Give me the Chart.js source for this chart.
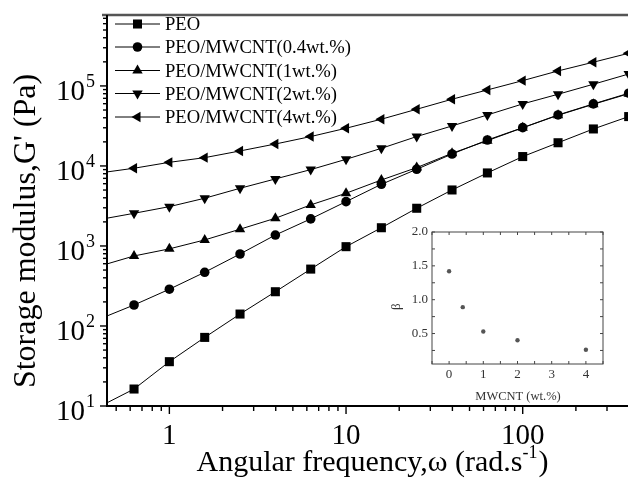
<!DOCTYPE html>
<html>
<head>
<meta charset="utf-8">
<script src="https://cdn.jsdelivr.net/npm/chart.js@4.4.0/dist/chart.umd.min.js"></script>
<style>
  body { margin: 0; background: #fff; overflow: hidden; }
  #wrap { position: relative; width: 628px; height: 494px; overflow: hidden; }
  #main { position: absolute; left: 0; top: 0; }
  #inset { position: absolute; left: 380px; top: 220px; }
</style>
</head>
<body>
<div id="wrap">
  <canvas id="main" width="640" height="494"></canvas>
  <canvas id="inset" width="240" height="190"></canvas>
</div>
<script>
// angular frequency (rad/s), five points per decade
const freq = [0.398, 0.631, 1, 1.585, 2.512, 3.981, 6.31, 10, 15.85, 25.12, 39.81, 63.1, 100, 158.5, 251.2, 398.1];

// storage modulus G' (Pa)
const peo   = [9.7, 16.3, 35.8, 72, 141, 268, 514, 980, 1690, 2960, 5010, 8180, 13100, 19500, 29000, 41400];
const peo04 = [121, 183, 288, 469, 794, 1370, 2180, 3580, 5900, 9090, 14100, 21100, 30100, 43400, 59600, 81100];
const peo1  = [556, 750, 920, 1190, 1620, 2220, 3260, 4560, 6680, 9530, 14400, 20700, 30000, 43000, 59000, 80000];
const peo2  = [2130, 2560, 3100, 3950, 5260, 6880, 9000, 12100, 16600, 23300, 31600, 43400, 59600, 78700, 105000, 141000];
const peo4  = [8150, 9360, 11100, 12700, 15400, 18800, 23300, 29600, 38400, 51100, 68200, 89100, 116500, 154000, 198000, 256000];

const seriesNames = ['PEO', 'PEO/MWCNT(0.4wt.%)', 'PEO/MWCNT(1wt.%)', 'PEO/MWCNT(2wt.%)', 'PEO/MWCNT(4wt.%)'];

const xMajor = [1, 10, 100];
const yMajor = [10, 100, 1000, 10000, 100000];

// inset: exponent beta vs nanotube loading
const loading = [0, 0.4, 1, 2, 4];
const beta = [1.42, 0.89, 0.53, 0.40, 0.26];
const insetXTicks = [0, 1, 2, 3, 4];
const insetYTicks = [0.5, 1.0, 1.5, 2.0];

const SERIF = '"Liberation Serif", "Times New Roman", serif';

const markers = [
  { pointStyle: 'rect', radius: 6.4, rotation: 0 },
  { pointStyle: 'circle', radius: 4.8, rotation: 0 },
  { pointStyle: 'triangle', radius: 6, rotation: 0 },
  { pointStyle: 'triangle', radius: 6, rotation: 180 },
  { pointStyle: 'triangle', radius: 6, rotation: 270 }
];

function line (ctx, x1, y1, x2, y2)
{
   ctx.beginPath();
   ctx.moveTo(x1, y1);
   ctx.lineTo(x2, y2);
   ctx.stroke();
}

// 1..9 x 10^n between lo and hi
function logTicks (lo, hi)
{
   let out = [];
   for (let e = Math.floor(Math.log10(lo)); e <= Math.ceil(Math.log10(hi)); e++)
      for (let m = 1; m < 10; m++)
      {
         let v = m * Math.pow(10, e);
         if (v >= lo && v <= hi) out.push(v);
      }
   return out;
}

function isDecade (v)
{
   let l = Math.log10(v);
   return Math.abs(l - Math.round(l)) < 1e-9;
}

const mainAxes = {
   id: 'mainAxes',
   afterDraw (chart)
   {
      const ctx = chart.ctx, a = chart.chartArea;
      const xs = chart.scales.x, ys = chart.scales.y;
      ctx.save();
      ctx.fillStyle = '#000';

      // top frame
      ctx.strokeStyle = '#555';
      ctx.lineWidth = 2.5;
      line(ctx, a.left - 5, a.top, chart.width, a.top);

      // axis lines
      ctx.strokeStyle = '#000';
      ctx.lineWidth = 2;
      line(ctx, a.left, a.top, a.left, a.bottom + 1);
      line(ctx, a.left - 1, a.bottom, chart.width, a.bottom);

      // ticks
      ctx.lineWidth = 1.4;
      for (const t of logTicks(xs.min, xs.max))
      {
         const px = xs.getPixelForValue(t);
         line(ctx, px, a.bottom, px, a.bottom + (isDecade(t) ? 8 : 5));
      }
      for (const t of logTicks(ys.min, ys.max))
      {
         const py = ys.getPixelForValue(t);
         line(ctx, a.left, py, a.left - (isDecade(t) ? 7 : 4), py);
      }

      // x tick labels
      ctx.font = '29px ' + SERIF;
      ctx.textAlign = 'center';
      ctx.textBaseline = 'alphabetic';
      for (const t of xMajor)
         ctx.fillText(String(t), xs.getPixelForValue(t), a.bottom + 38);

      // y tick labels, 10 with a raised exponent
      for (const t of yMajor)
      {
         const py = ys.getPixelForValue(t);
         const exp = String(Math.round(Math.log10(t)));
         ctx.font = '18px ' + SERIF;
         const ew = ctx.measureText(exp).width;
         ctx.textAlign = 'left';
         ctx.fillText(exp, 95 - ew, py + 1);
         ctx.font = '29px ' + SERIF;
         ctx.textAlign = 'right';
         ctx.fillText('10', 95 - ew - 1, py + 14);
      }

      // axis titles
      ctx.font = '30px ' + SERIF;
      const p1 = 'Angular frequency,\u03c9 (rad.s', p2 = '-1', p3 = ')';
      const w1 = ctx.measureText(p1).width, w3 = ctx.measureText(p3).width;
      ctx.font = '18px ' + SERIF;
      const w2 = ctx.measureText(p2).width;
      let x0 = 372 - (w1 + w2 + w3) / 2;
      ctx.textAlign = 'left';
      ctx.font = '30px ' + SERIF;
      ctx.fillText(p1, x0, 471);
      ctx.font = '18px ' + SERIF;
      ctx.fillText(p2, x0 + w1, 458);
      ctx.font = '30px ' + SERIF;
      ctx.fillText(p3, x0 + w1 + w2 + 1, 471);

      ctx.save();
      ctx.translate(27, 231);
      ctx.rotate(-Math.PI / 2);
      ctx.textAlign = 'center';
      ctx.textBaseline = 'middle';
      ctx.font = '32px ' + SERIF;
      ctx.fillText("Storage modulus,G' (Pa)", 0, 0);
      ctx.restore();

      // legend
      const rows = [24, 47, 70.5, 93.5, 117];
      ctx.font = '18.6px ' + SERIF;
      ctx.textAlign = 'left';
      ctx.textBaseline = 'alphabetic';
      ctx.lineWidth = 1;
      for (let i = 0; i < seriesNames.length; i++)
      {
         const y = rows[i];
         ctx.strokeStyle = '#000';
         line(ctx, 115, y, 160, y);
         ctx.fillStyle = '#000';
         Chart.helpers.drawPoint(ctx, {
            pointStyle: markers[i].pointStyle,
            radius: markers[i].radius,
            rotation: markers[i].rotation,
            borderWidth: 0
         }, 137.5, y);
         ctx.fillText(seriesNames[i], 165, y + 6);
      }
      ctx.restore();
   }
};

const insetAxes = {
   id: 'insetAxes',
   afterDraw (chart)
   {
      const ctx = chart.ctx, a = chart.chartArea;
      const xs = chart.scales.x, ys = chart.scales.y;
      ctx.save();
      ctx.strokeStyle = '#444';
      ctx.fillStyle = '#333';
      ctx.lineWidth = 1;
      ctx.strokeRect(a.left, a.top, a.right - a.left, a.bottom - a.top);

      // inward ticks on all four sides
      for (let v = -0.5; v <= 4.5; v += 0.5)
      {
         const px = xs.getPixelForValue(v);
         line(ctx, px, a.bottom, px, a.bottom - 3);
         line(ctx, px, a.top, px, a.top + 3);
      }
      for (let v = 0.25; v <= 2.0; v += 0.25)
      {
         const py = ys.getPixelForValue(v);
         line(ctx, a.left, py, a.left + 3, py);
         line(ctx, a.right, py, a.right - 3, py);
      }

      ctx.font = '13px ' + SERIF;
      ctx.textBaseline = 'middle';
      ctx.textAlign = 'right';
      for (const t of insetYTicks)
         ctx.fillText(t.toFixed(1), a.left - 4, ys.getPixelForValue(t));
      ctx.textAlign = 'center';
      for (const t of insetXTicks)
         ctx.fillText(String(t), xs.getPixelForValue(t), a.bottom + 11);

      ctx.font = '12.5px ' + SERIF;
      ctx.fillText('MWCNT (wt.%)', (a.left + a.right) / 2 + 0.5, a.bottom + 33);

      ctx.save();
      ctx.translate(a.left - 35, ys.getPixelForValue(1.0) + 7);
      ctx.rotate(-Math.PI / 2);
      ctx.font = '13px ' + SERIF;
      ctx.fillText('\u03b2', 0, 0);
      ctx.restore();
      ctx.restore();
   }
};

const values = [peo, peo04, peo1, peo2, peo4];
const datasets = values.map((v, i) => ({
   label: seriesNames[i],
   data: v.map((y, k) => ({ x: freq[k], y: y })),
   borderColor: '#000',
   borderWidth: 1,
   backgroundColor: '#000',
   pointBackgroundColor: '#000',
   pointBorderColor: '#000',
   pointBorderWidth: 0,
   pointStyle: markers[i].pointStyle,
   pointRadius: markers[i].radius,
   pointRotation: markers[i].rotation,
   tension: 0
}));

new Chart(document.getElementById('main'), {
   type: 'line',
   data: { datasets: datasets },
   options: {
      responsive: false,
      animation: false,
      layout: { padding: { left: 107, top: 15, right: 7, bottom: 88 } },
      plugins: { legend: { display: false }, tooltip: { enabled: false } },
      scales: {
         x: { type: 'logarithmic', min: 0.4436, max: 421, display: false },
         y: { type: 'logarithmic', min: 10, max: 7.7e5, display: false }
      }
   },
   plugins: [mainAxes]
});

new Chart(document.getElementById('inset'), {
   type: 'scatter',
   data: {
      datasets: [{
         data: loading.map((x, i) => ({ x: x, y: beta[i] })),
         pointRadius: 2.2,
         pointBackgroundColor: '#555',
         pointBorderWidth: 0
      }]
   },
   options: {
      responsive: false,
      animation: false,
      layout: { padding: { left: 52, top: 12, right: 17, bottom: 46 } },
      plugins: { legend: { display: false }, tooltip: { enabled: false } },
      scales: {
         x: { type: 'linear', min: -0.5, max: 4.5, display: false },
         y: { type: 'linear', min: 0.05, max: 2.0, display: false }
      }
   },
   plugins: [insetAxes]
});
</script>
</body>
</html>
